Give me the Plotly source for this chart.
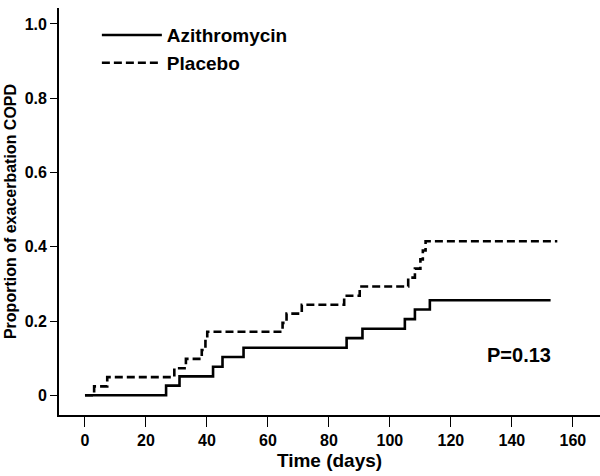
import plotly.graph_objects as go

# Kaplan-Meier style cumulative proportions (step functions)
azi_days = [0, 26.6, 31, 42, 45.1, 52, 85.8, 91, 104.9, 108.2, 113.1, 152.7]
azi_prop = [0, 0.026, 0.051, 0.077, 0.103, 0.128, 0.154, 0.179, 0.205, 0.231, 0.256, 0.256]

pla_days = [0, 3, 7.3, 29.3, 33.1, 38.3, 39.5, 40.1, 64.8, 66.1, 71.1, 85, 90.1,
            106, 108.2, 110, 110.8, 111.7, 154.9]
pla_prop = [0, 0.024, 0.049, 0.073, 0.098, 0.122, 0.146, 0.171, 0.195, 0.22, 0.244,
            0.268, 0.293, 0.317, 0.341, 0.366, 0.39, 0.415, 0.415]

x_ticks = [0, 20, 40, 60, 80, 100, 120, 140, 160]
y_ticks = [0, 0.2, 0.4, 0.6, 0.8, 1.0]
y_tick_labels = ["0", "0.2", "0.4", "0.6", "0.8", "1.0"]

FONT = "Liberation Sans, Arial, sans-serif"

fig = go.Figure()
fig.add_trace(go.Scatter(
    x=azi_days, y=azi_prop, mode="lines", name="Azithromycin",
    line=dict(color="black", width=2.6, shape="hv"),
))
fig.add_trace(go.Scatter(
    x=pla_days, y=pla_prop, mode="lines", name="Placebo",
    line=dict(color="black", width=2.6, shape="hv", dash="8px,4px"),
))

fig.update_layout(
    width=600, height=476,
    margin=dict(l=59, r=0, t=8, b=61),
    paper_bgcolor="white", plot_bgcolor="white",
    font=dict(family=FONT, color="black", size=16, weight="bold"),
    showlegend=True,
    legend=dict(
        x=0.07, y=0.98, xanchor="left", yanchor="top",
        font=dict(family=FONT, size=19, color="black", weight="bold"),
        bgcolor="rgba(0,0,0,0)", borderwidth=0,
        itemwidth=60, tracegroupgap=0,
    ),
    xaxis=dict(
        range=[-8.52, 168.9], tickvals=x_ticks, automargin=False,
        ticks="outside", ticklen=10, tickwidth=1.2, tickcolor="black",
        showline=True, linecolor="black", linewidth=1.8, mirror=False,
        showgrid=False, zeroline=False,
        tickfont=dict(family=FONT, size=16, color="black", weight="bold"),
        title=dict(text="Time (days)", standoff=6,
                   font=dict(family=FONT, size=19, color="black", weight="bold")),
    ),
    yaxis=dict(
        range=[-0.0531, 1.043], tickvals=y_ticks, ticktext=y_tick_labels, automargin=False,
        ticks="outside", ticklen=7, tickwidth=1.2, tickcolor="black",
        showline=True, linecolor="black", linewidth=1.8, mirror=False,
        showgrid=False, zeroline=False,
        tickfont=dict(family=FONT, size=16, color="black", weight="bold"),
        title=dict(text="Proportion of exacerbation COPD", standoff=4,
                   font=dict(family=FONT, size=16, color="black", weight="bold")),
    ),
    annotations=[dict(
        x=0.85, y=0.147, xref="paper", yref="paper", xanchor="center", yanchor="middle",
        text="P=0.13", showarrow=False,
        font=dict(family=FONT, size=20, color="black", weight="bold"),
    )],
)

fig.write_html("out.html", config={"displayModeBar": False},
               post_script="document.body.style.margin='0';")
